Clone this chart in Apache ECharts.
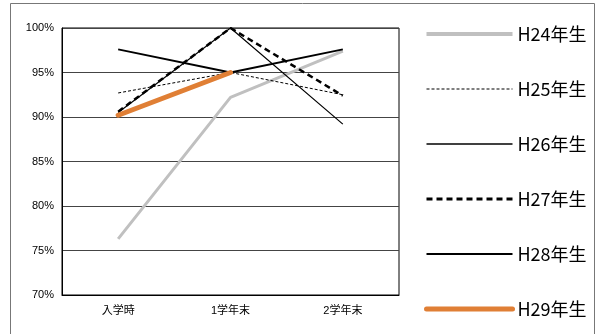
<!DOCTYPE html>
<html><head><meta charset="utf-8">
<script src="https://cdn.jsdelivr.net/npm/echarts@6/dist/echarts.min.js"></script>
<style>html,body{margin:0;padding:0;background:#fff}#c{width:598px;height:334px}</style>
</head><body><div id="c"></div>
<script>
const categories = ['入学時', '1学年末', '2学年末'];
const seriesNames = ['H24年生', 'H25年生', 'H26年生', 'H27年生', 'H28年生', 'H29年生'];
const h24 = [76.3, 92.2, 97.4];
const h25 = [92.7, 95.0, 92.5];
const h26 = [90.5, 100.0, 89.2];
const h27 = [90.6, 100.0, 92.4];
const h28 = [97.6, 95.0, 97.6];
const h29 = [90.2, 95.0, null];
const yTicks = [70, 75, 80, 85, 90, 95, 100];

const styles = [
  {color: '#c0c0c0', width: 3, legendWidth: 4, type: 'solid'},
  {color: '#000', width: 1, legendWidth: 1.2, type: [3, 2]},
  {color: '#000', width: 1.2, legendWidth: 1.6, type: 'solid'},
  {color: '#000', width: 2.5, legendWidth: 3, type: [6, 4]},
  {color: '#000', width: 2, legendWidth: 2, type: 'solid'},
  {color: '#e07f35', width: 5, legendWidth: 5, type: 'solid'}
];
const data = [h24, h25, h26, h27, h28, h29];
const font = 'Liberation Sans, "Noto Sans CJK JP", sans-serif';

const chart = echarts.init(document.getElementById('c'));
chart.setOption({
  animation: false,
  grid: {left: 62, top: 28, right: 199, bottom: 39, show: true, borderColor: '#000', borderWidth: 1},
  graphic: [{type: 'rect', shape: {x: 10.5, y: 3.5, width: 584, height: 340}, style: {fill: 'none', stroke: '#777', lineWidth: 1}, silent: true}],
  xAxis: {
    type: 'category', data: categories, boundaryGap: true,
    axisLine: {lineStyle: {color: '#000'}},
    axisTick: {inside: true, length: 3, lineStyle: {color: '#000'}},
    axisLabel: {color: '#000', fontSize: 11, margin: 10, fontFamily: font}
  },
  yAxis: {
    type: 'value', min: yTicks[0], max: yTicks[yTicks.length - 1], interval: 5,
    axisLine: {show: true, lineStyle: {color: '#000'}},
    axisTick: {show: false},
    axisLabel: {color: '#000', fontSize: 11, margin: 8, formatter: '{value}%', fontFamily: font},
    splitLine: {lineStyle: {color: '#444', width: 1}}
  },
  legend: {
    orient: 'vertical', left: 419, top: 20, itemWidth: 86, itemHeight: 14, itemGap: 37,
    itemStyle: {opacity: 0},
    textStyle: {fontSize: 18, color: '#000', fontFamily: '"Noto Sans CJK JP", sans-serif'},
    data: seriesNames.map((n, i) => ({
      name: n,
      lineStyle: {color: styles[i].color, width: styles[i].legendWidth, type: styles[i].type, cap: i === 5 ? 'round' : 'butt'}
    }))
  },
  series: seriesNames.map((n, i) => ({
    name: n, type: 'line', data: data[i], symbol: 'none', showSymbol: false,
    lineStyle: {color: styles[i].color, width: styles[i].width, type: styles[i].type, cap: i === 5 ? 'round' : 'butt'},
    itemStyle: {color: styles[i].color},
    z: i === 5 ? 10 : 2
  }))
});
</script></body></html>
